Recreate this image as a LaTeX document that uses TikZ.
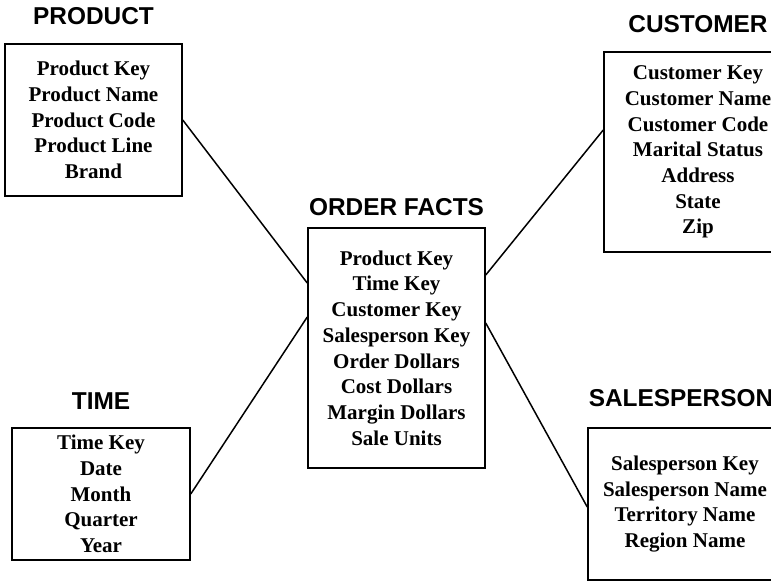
\documentclass[tikz,border=0pt]{standalone}
\usepackage{fontspec}
\setmainfont{Liberation Serif}
\newfontfamily\titlefont{Liberation Sans}
\usetikzlibrary{positioning}

\begin{document}
\begin{tikzpicture}[x=1pt, y=-1pt,
	table/.style={draw, line width=1.5pt, align=center, inner sep=0pt,
		font=\fontsize{21}{25.7}\selectfont\bfseries},
	title/.style={inner sep=0pt, font=\fontsize{24.4}{27}\titlefont\bfseries}
	]
	\useasboundingbox (0,0) rectangle (771,582);
	\clip (0,0) rectangle (771,582);

	\node[table, minimum width=177pt, minimum height=152pt] (prod) at (93.5,120)
		{Product Key\\Product Name\\Product Code\\Product Line\\Brand};
	\node[table, minimum width=178pt, minimum height=132pt] (time) at (101,494)
		{Time Key\\Date\\Month\\Quarter\\Year};
	\node[table, minimum width=177pt, minimum height=240pt] (order) at (396.5,348)
		{Product Key\\Time Key\\Customer Key\\Salesperson Key\\Order Dollars\\Cost Dollars\\Margin Dollars\\Sale Units};
	\node[table, minimum width=188pt, minimum height=200pt] (cust) at (698,152)
		{Customer Key\\Customer Name\\Customer Code\\Marital Status\\Address\\State\\Zip};
	\node[table, minimum width=194pt, minimum height=152pt] (sales) at (685,504)
		{Salesperson Key\\Salesperson Name\\Territory Name\\Region Name};

	\node[title, above=18pt of prod] {PRODUCT};
	\node[title, above=18pt of time] {TIME};
	\node[title, above=11pt of order] {ORDER FACTS};
	\node[title, above=18pt of cust] {CUSTOMER};
	\node[title, above=20pt of sales, xshift=-4pt] {SALESPERSON};

	\draw[line width=1.5pt] (prod.east) -- ([yshift=65pt]order.west);
	\draw[line width=1.5pt] (time.east) -- ([yshift=31pt]order.west);
	\draw[line width=1.5pt] ([yshift=73pt]order.east) -- ([yshift=22pt]cust.west);
	\draw[line width=1.5pt] ([yshift=25pt]order.east) -- ([yshift=-3pt]sales.west);
\end{tikzpicture}
\end{document}
